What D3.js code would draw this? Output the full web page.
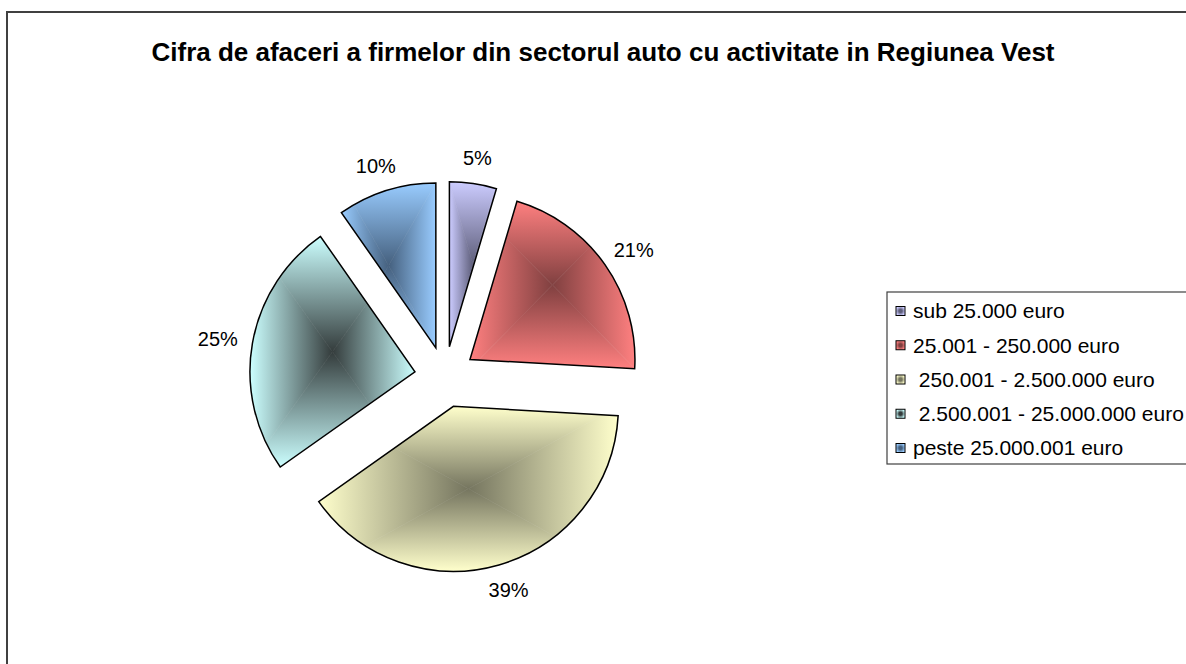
<!DOCTYPE html>
<html>
<head>
<meta charset="utf-8">
<script src="https://cdn.jsdelivr.net/npm/d3@7"></script>
<style>
  html, body { margin: 0; padding: 0; background: #fff; overflow: hidden; }
  svg { display: block; font-family: "Liberation Sans", Arial, sans-serif; }
</style>
</head>
<body>
<svg id="chart"></svg>
<script>
// chart data
const title = 'Cifra de afaceri a firmelor din sectorul auto cu activitate in Regiunea Vest';
const categories = ['sub 25.000 euro', '25.001 - 250.000 euro', ' 250.001 - 2.500.000 euro', ' 2.500.001 - 25.000.000 euro', 'peste 25.000.001 euro'];
const values = [4.6, 21.3, 39.3, 25.1, 9.7];
const pctLabels = ['5%', '21%', '39%', '25%', '10%'];
const colors = ['#CCCCFF', '#FF8080', '#FFFFCC', '#CCFFFF', '#99CCFF'];
const darkColors = ['#5e5e7a', '#804040', '#75755f', '#343c3c', '#45607e'];

const W = 1186, H = 664;
const cx = 445, cy = 377, radius = 165, explode = 30.5, labelRadius = 180;

const svg = d3.select('#chart').attr('width', W).attr('height', H);
const defs = svg.append('defs');

// chart area frame (runs past the right and bottom edges)
svg.append('rect')
    .attr('x', 7).attr('y', 12)
    .attr('width', 1300).attr('height', 800)
    .attr('fill', '#fff')
    .attr('stroke', '#404040')
    .attr('stroke-width', 2);

svg.append('text')
    .attr('x', 603).attr('y', 61)
    .attr('text-anchor', 'middle')
    .attr('font-size', 26)
    .attr('font-weight', 'bold')
    .text(title);

const pie = d3.pie().sort(null).startAngle(0).endAngle(2 * Math.PI);
const arcs = pie(values);
const arc = d3.arc().innerRadius(0).outerRadius(radius);

const midOf = d => (d.startAngle + d.endAngle) / 2;
const offsetOf = (d, r) => [Math.sin(midOf(d)) * r, -Math.cos(midOf(d)) * r];

const g = svg.append('g').attr('transform', `translate(${cx}, ${cy})`);

// "from center" rectangular gradient: four triangles from bbox centre, clipped to slice
function gradFill(parent, id, box, light, dark) {
    const mx = box.x + box.width / 2, my = box.y + box.height / 2;
    const x0 = box.x, x1 = box.x + box.width, y0 = box.y, y1 = box.y + box.height;
    const sides = [
        { pts: [[x0, y0], [x1, y0]], end: [mx, y0] },
        { pts: [[x1, y0], [x1, y1]], end: [x1, my] },
        { pts: [[x1, y1], [x0, y1]], end: [mx, y1] },
        { pts: [[x0, y1], [x0, y0]], end: [x0, my] }
    ];
    sides.forEach((s, i) => {
        const gid = `${id}-t${i}`;
        const lg = defs.append('linearGradient')
            .attr('id', gid)
            .attr('gradientUnits', 'userSpaceOnUse')
            .attr('x1', mx).attr('y1', my)
            .attr('x2', s.end[0]).attr('y2', s.end[1]);
        lg.append('stop').attr('offset', 0).attr('stop-color', dark);
        lg.append('stop').attr('offset', 1).attr('stop-color', light);
        parent.append('polygon')
            .attr('points', [[mx, my], ...s.pts].map(p => p.join(',')).join(' '))
            .attr('fill', `url(#${gid})`)
            .attr('stroke', `url(#${gid})`)
            .attr('stroke-width', 0.6);
    });
}

arcs.forEach((d, i) => {
    const [ox, oy] = offsetOf(d, explode);
    const slice = g.append('g').attr('transform', `translate(${ox}, ${oy})`);
    const clipId = `clip-${i}`;
    const clipPath = defs.append('clipPath').attr('id', clipId);
    const p = clipPath.append('path').attr('d', arc(d));
    const box = p.node().getBBox();
    const fillG = slice.append('g').attr('clip-path', `url(#${clipId})`);
    gradFill(fillG, `sg${i}`, box, colors[i], darkColors[i]);
    slice.append('path')
        .attr('d', arc(d))
        .attr('fill', 'none')
        .attr('stroke', '#000')
        .attr('stroke-width', 1.5)
        .attr('stroke-linejoin', 'miter');

    // label: anchor on a circle, text box pushed outward from it
    const [ax, ay] = offsetOf(d, labelRadius);
    const label = slice.append('text')
        .attr('text-anchor', 'middle')
        .attr('dy', '0.35em')
        .attr('font-size', 20)
        .text(pctLabels[i]);
    const tb = label.node().getBBox();
    const a = midOf(d);
    label.attr('x', ax + Math.sin(a) * tb.width / 2)
        .attr('y', ay - Math.cos(a) * tb.height / 2);
});

// legend
const legend = svg.append('g').attr('transform', 'translate(887, 292)');
legend.append('rect')
    .attr('width', 400).attr('height', 172)
    .attr('fill', '#fff')
    .attr('stroke', '#404040')
    .attr('stroke-width', 1.2);

const rowY = d3.scalePoint().domain(d3.range(categories.length)).range([19, 156]);

categories.forEach((c, i) => {
    const row = legend.append('g').attr('transform', `translate(0, ${rowY(i)})`);
    const rg = defs.append('radialGradient').attr('id', `lg${i}`);
    rg.append('stop').attr('offset', 0).attr('stop-color', darkColors[i]);
    rg.append('stop').attr('offset', 0.35).attr('stop-color', darkColors[i]);
    rg.append('stop').attr('offset', 1).attr('stop-color', colors[i]);
    row.append('rect')
        .attr('x', 9).attr('y', -4.5)
        .attr('width', 9).attr('height', 9)
        .attr('fill', `url(#lg${i})`)
        .attr('stroke', '#000')
        .attr('stroke-width', 1);
    row.append('text')
        .attr('x', 26).attr('y', 0)
        .attr('dy', '0.35em')
        .attr('font-size', 21)
        .attr('xml:space', 'preserve')
        .style('white-space', 'pre')
        .text(c);
});
</script>
</body>
</html>
